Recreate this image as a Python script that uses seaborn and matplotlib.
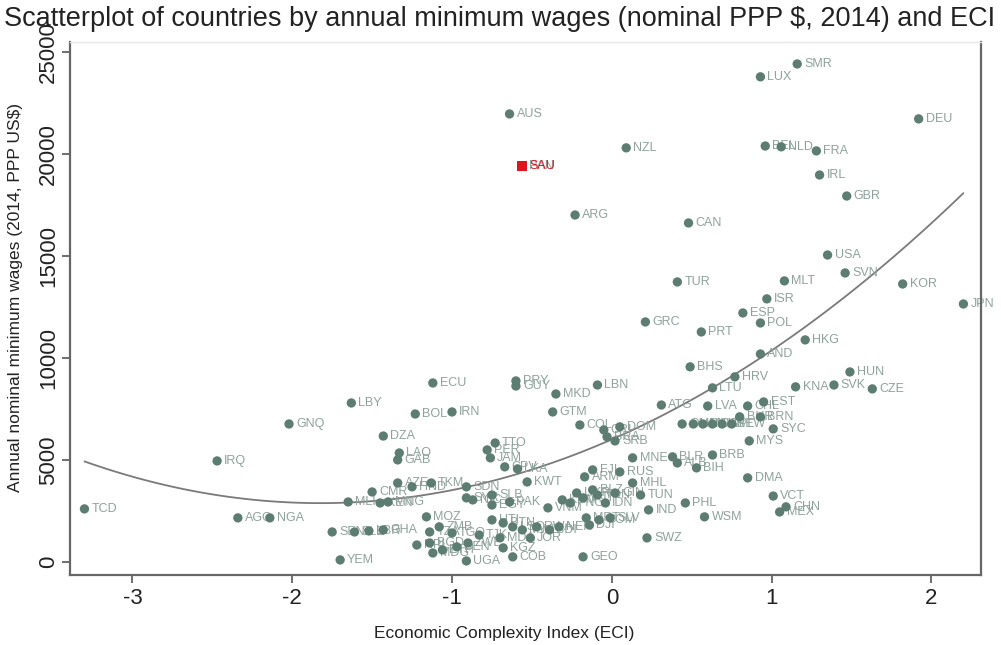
import pandas as pd
import matplotlib
matplotlib.use('Agg')
import matplotlib.pyplot as plt
import seaborn as sns

# Countries: ECI and annual nominal minimum wage (2014, PPP US$)
codes = ['SMR', 'LUX', 'AUS', 'DEU', 'NZL', 'BEL', 'NLD', 'FRA', 'IRL', 'GBR',
         'PAN', 'ARG', 'CAN', 'USA', 'SVN', 'KOR', 'JPN', 'TUR', 'MLT', 'ISR',
         'ESP', 'POL', 'GRC', 'PRT', 'HKG', 'AND', 'BHS', 'HRV', 'LTU', 'HUN',
         'KNA', 'SVK', 'CZE', 'ECU', 'LBY', 'GNQ', 'BOL', 'IRN', 'PRY', 'GUY',
         'MKD', 'LBN', 'GTM', 'COL', 'CRI', 'DOM', 'BRA', 'SRB', 'ATG', 'LVA',
         'CHL', 'EST', 'BHR', 'BRN', 'OMN', 'URY', 'MUS', 'CUB', 'ARE', 'PLW',
         'SYC', 'MYS', 'MNE', 'BLR', 'ALB', 'BIH', 'BRB', 'DMA', 'RUS', 'MHL',
         'FJI', 'ARM', 'TUN', 'IND', 'PHL', 'SWZ', 'GEO', 'WSM', 'VCT', 'MEX',
         'CHN', 'TCD', 'IRQ', 'AGO', 'NGA', 'YEM', 'DZA', 'LAO', 'GAB', 'SEN',
         'SLE', 'LBR', 'GHA', 'MLI', 'CMR', 'KEN', 'AZE', 'HND', 'TKM', 'MNG',
         'MOZ', 'TZA', 'ZMB', 'NPL', 'BGD', 'MDG', 'ETH', 'BEN', 'TGO', 'UGA',
         'COB', 'KGZ', 'TTO', 'PER', 'JAM', 'CPV', 'LKA', 'KWT', 'SDN', 'SYR',
         'SLB', 'PAK', 'EGY', 'NIC', 'VNM', 'KHM', 'UKR', 'PNG', 'HTI', 'BTN',
         'LSO', 'MWI', 'RWA', 'BDI', 'NER', 'TJK', 'MDA', 'JOR', 'ZWE', 'BLZ',
         'VUT', 'IDN', 'TON', 'SLV', 'GIN', 'MRT', 'COM', 'DJI']
eci = [1.16, 0.93, -0.64, 1.92, 0.09, 0.96, 1.06, 1.28, 1.30, 1.47,
       -0.56, -0.23, 0.48, 1.35, 1.46, 1.82, 2.20, 0.41, 1.08, 0.97,
       0.82, 0.93, 0.21, 0.56, 1.21, 0.93, 0.49, 0.77, 0.63, 1.49,
       1.15, 1.39, 1.63, -1.12, -1.63, -2.02, -1.23, -1.00, -0.60, -0.60,
       -0.35, -0.09, -0.37, -0.20, -0.05, 0.05, -0.03, 0.02, 0.31, 0.60,
       0.85, 0.95, 0.80, 0.93, 0.44, 0.51, 0.57, 0.63, 0.69, 0.75,
       1.01, 0.86, 0.13, 0.38, 0.41, 0.53, 0.63, 0.85, 0.05, 0.13,
       -0.12, -0.17, 0.18, 0.23, 0.46, 0.22, -0.18, 0.58, 1.01, 1.05,
       1.09, -3.30, -2.47, -2.34, -2.14, -1.70, -1.43, -1.33, -1.34, -1.75,
       -1.61, -1.52, -1.43, -1.65, -1.50, -1.45, -1.34, -1.25, -1.13, -1.40,
       -1.16, -1.14, -1.08, -1.22, -1.14, -1.12, -1.06, -0.97, -1.00, -0.91,
       -0.62, -0.68, -0.73, -0.78, -0.76, -0.67, -0.59, -0.53, -0.91, -0.91,
       -0.75, -0.64, -0.75, -0.87, -0.40, -0.31, -0.22, -0.26, -0.75, -0.68,
       -0.62, -0.56, -0.47, -0.39, -0.33, -0.83, -0.70, -0.51, -0.90, -0.12,
       -0.18, -0.04, -0.09, -0.01, 0.02, -0.16, -0.08, -0.14]
wage = [24400, 23770, 21950, 21710, 20290, 20380, 20340, 20140, 18960, 17930,
        19400, 17000, 16610, 15040, 14160, 13620, 12640, 13720, 13770, 12890,
        12200, 11710, 11760, 11270, 10880, 10190, 9560, 9070, 8530, 9310,
        8580, 8670, 8480, 8770, 7790, 6760, 7250, 7350, 8870, 8620,
        8230, 8670, 7350, 6710, 6470, 6620, 6130, 5930, 7690, 7640,
        7640, 7840, 7110, 7110, 6760, 6760, 6760, 6760, 6760, 6760,
        6520, 5930, 5100, 5150, 4850, 4610, 5240, 4120, 4410, 3870,
        4510, 4170, 3280, 2550, 2890, 1180, 250, 2210, 3230, 2450,
        2700, 2600, 4950, 2160, 2160, 100, 6170, 5340, 5000, 1470,
        1470, 1520, 1570, 2940, 3430, 2890, 3870, 3680, 3870, 2940,
        2210, 1470, 1720, 830, 930, 440, 590, 740, 1420, 50,
        250, 690, 5830, 5490, 5100, 4660, 4560, 3920, 3680, 3140,
        3280, 2940, 2790, 3040, 2650, 3040, 3380, 2890, 2060, 1910,
        1720, 1570, 1720, 1570, 1720, 1320, 1180, 1180, 930, 3530,
        3140, 2890, 3280, 2160, 3380, 2160, 2060, 1810]

# highlighted country (red square)
hi_code = ['SAU']
hi_eci = [-0.56]
hi_wage = [19400]

df = pd.DataFrame({'code': codes, 'eci': eci, 'wage': wage})
hi = pd.DataFrame({'code': hi_code, 'eci': hi_eci, 'wage': hi_wage})
full = pd.concat([df, hi], ignore_index=True)

dot_col = '#5d7d72'
lab_col = '#8ea29b'

sns.set_style('white')
plt.rcParams['font.family'] = ['Liberation Sans', 'DejaVu Sans']
plt.rcParams['axes.unicode_minus'] = False

fig, ax = plt.subplots(figsize=(10.01, 6.45), dpi=100)
fig.subplots_adjust(left=0.070, right=0.980, bottom=0.1085, top=0.935)

# quadratic fit over all countries
sns.regplot(ax=ax, x='eci', y='wage', data=full, order=2, ci=None, scatter=False,
            line_kws={'color': '#7a7a7a', 'lw': 1.3})

sns.scatterplot(ax=ax, x='eci', y='wage', data=df, color=dot_col, s=45,
                edgecolor='none', zorder=3)
for _, r in df.iterrows():
    ax.annotate(r['code'], (r['eci'], r['wage']), xytext=(5, 0),
                textcoords='offset points', va='center', ha='left',
                fontsize=9, color=lab_col, zorder=2)

sns.scatterplot(ax=ax, x='eci', y='wage', data=hi, color='#e3131b', marker='s',
                s=50, edgecolor='none', zorder=4)
for _, r in hi.iterrows():
    ax.annotate(r['code'], (r['eci'], r['wage']), xytext=(5, 0),
                textcoords='offset points', va='center', ha='left',
                fontsize=9, color='#e3131b', zorder=4)

ax.set_xlim(-3.39, 2.31)
ax.set_ylim(-640, 25480)
ax.set_xticks([-3, -2, -1, 0, 1, 2])
ax.set_yticks([0, 5000, 10000, 15000, 20000, 25000])
ax.tick_params(axis='both', direction='out', length=6, width=1.2,
               color='#555555', labelsize=16, labelcolor='#222222', bottom=True, left=True)
ax.tick_params(axis='y', labelrotation=90, pad=2)
for lab in ax.get_yticklabels():
    lab.set_va('center')

for side in ['left', 'bottom', 'right']:
    ax.spines[side].set_color('#666666')
    ax.spines[side].set_linewidth(1.6)
ax.spines['top'].set_color('#e6e6e6')
ax.spines['top'].set_linewidth(1)

ax.set_xlabel('Economic Complexity Index (ECI)', fontsize=12.5, color='#222222')
ax.xaxis.set_label_coords(0.477, -0.095)
ax.set_ylabel('Annual nominal minimum wages (2014, PPP US$)', fontsize=12.5,
              color='#222222')
ax.yaxis.set_label_coords(-0.052, 0.52)

fig.text(0.004, 0.99,
         'Scatterplot of countries by annual minimum wages (nominal PPP $, 2014) and ECI',
         fontsize=19.5, color='#222222', ha='left', va='top')

fig.savefig('out.png', dpi=100)
